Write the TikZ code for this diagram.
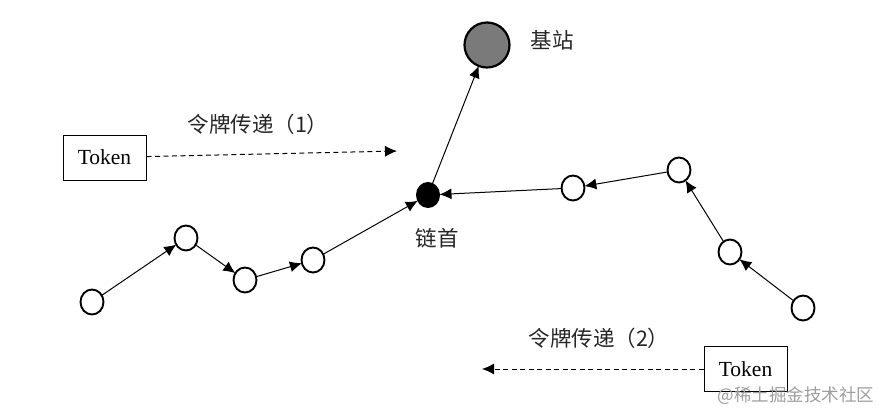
\documentclass[tikz,border=0pt]{standalone}
\usepackage{fontspec}
\setmainfont{Liberation Serif}
\newfontfamily\cjk{Noto Sans CJK SC}
\usetikzlibrary{arrows.meta,shapes.geometric}
\tikzset{
  sensor/.style={ellipse,draw=black,line width=1.9pt,fill=white,minimum width=23pt,minimum height=25pt,inner sep=0pt,outer sep=0pt},
  headnode/.style={ellipse,draw=black,fill=black,line width=1pt,minimum width=23pt,minimum height=25pt,inner sep=0pt,outer sep=0pt},
  basenode/.style={circle,draw=black,line width=2.2pt,fill=black!52,minimum size=45pt,inner sep=0pt,outer sep=0pt},
  tokenbox/.style={rectangle,draw=black,line width=1pt,minimum width=83pt,minimum height=45pt,inner sep=0pt,font=\fontsize{21.5}{23}\selectfont},
  link/.style={draw=black,line width=1pt,-{Latex[length=12pt,width=11pt]}},
  pass/.style={draw=black,line width=1pt,dash pattern=on 5pt off 3.5pt,-{Latex[length=12pt,width=11pt]}},
  cn/.style={font=\cjk\fontsize{21.5}{24}\selectfont,text=black!85,inner sep=0pt}
}
\begin{document}
\begin{tikzpicture}[x=1pt,y=-1pt]
\useasboundingbox (0,0) rectangle (882,413);
\node[sensor] (a1) at (92,302) {};
\node[sensor] (a2) at (186,238) {};
\node[sensor] (a3) at (245,280) {};
\node[sensor] (a4) at (313,260) {};
\node[headnode] (h) at (428,195) {};
\node[sensor] (b1) at (573,188) {};
\node[sensor] (b2) at (679,170) {};
\node[sensor] (b3) at (730,252) {};
\node[sensor] (b4) at (803,308) {};
\node[basenode] (bs) at (487,45) {};
\node[tokenbox] (t1) at (104.5,157.5) {Token};
\node[tokenbox] (t2) at (745.5,369) {Token};
\coordinate (e1) at (397,151);
\coordinate (e2) at (482,369);
\node[cn] (l1) at (552,40) {基站};
\node[cn] (l2) at (258,124) {令牌传递（1）};
\node[cn] (l3) at (437,238) {链首};
\node[cn] (l4) at (599,338) {令牌传递（2）};
\node[font=\cjk\fontsize{17.5}{20}\selectfont,text=black!38,inner sep=0pt] (wm) at (796,396) {@稀土掘金技术社区};
\draw[link] (a1) -- (a2);
\draw[link] (a2) -- (a3);
\draw[link] (a3) -- (a4);
\draw[link] (a4) -- (h);
\draw[link] (b4) -- (b3);
\draw[link] (b3) -- (b2);
\draw[link] (b2) -- (b1);
\draw[link] (b1) -- (h);
\draw[link] (h) -- (bs);
\draw[pass] (t1) -- (e1);
\draw[pass] (t2) -- (e2);
\end{tikzpicture}
\end{document}
